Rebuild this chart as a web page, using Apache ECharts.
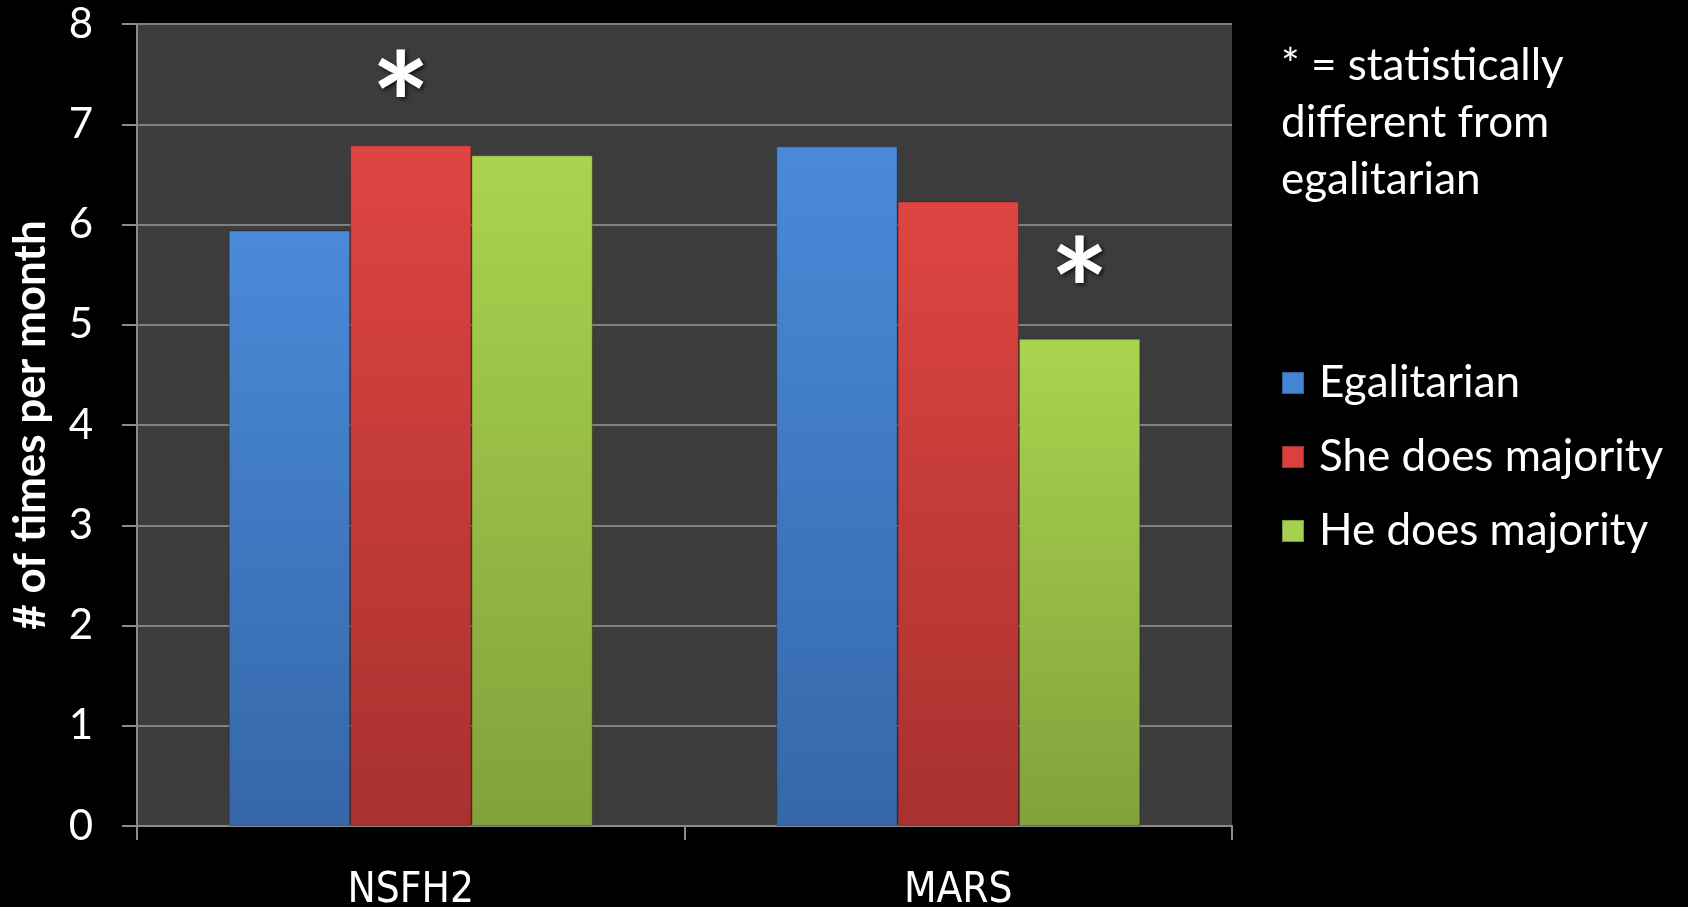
<!DOCTYPE html>
<html>
<head>
<meta charset="utf-8">
<style>
html,body{margin:0;padding:0;background:#000;}
#chart{width:1688px;height:907px;}
</style>
<script src="https://cdn.jsdelivr.net/npm/echarts@6/dist/echarts.min.js"></script>
</head>
<body>
<div id="chart"></div>
<script>
const categories = ['NSFH2', 'MARS'];
const seriesNames = ['Egalitarian', 'She does majority', 'He does majority'];
const egalitarian = [5.94, 6.78];
const sheDoesMajority = [6.79, 6.23];
const heDoesMajority = [6.69, 4.86];
// significance flags (true = statistically different from egalitarian)
const sheSignificant = [true, false];
const heSignificant = [false, true];
const yTicks = [0, 1, 2, 3, 4, 5, 6, 7, 8];
const noteLines = ['* = statistically', 'different from', 'egalitarian'];

const FONT = 'Lato, "Open Sans", sans-serif';

function grad(top, bottom) {
  return new echarts.graphic.LinearGradient(0, 0, 0, 1, [
    { offset: 0, color: top },
    { offset: 1, color: bottom }
  ]);
}
const colors = [
  { top: '#4a8ad9', bottom: '#3567a9', legend: '#4584d3' },
  { top: '#de4542', bottom: '#a8312f', legend: '#d9403e' },
  { top: '#a9d44f', bottom: '#82a13b', legend: '#a5cf4f' }
];

function makeData(values, flags, offsets) {
  return values.map((v, i) => {
    if (flags && flags[i]) {
      return {
        value: v,
        label: {
          show: true,
          formatter: '*',
          position: 'top',
          distance: 0,
          offset: offsets[i],
          color: '#ffffff',
          fontSize: 140,
          fontWeight: 'bold',
          fontFamily: FONT,
          textShadowColor: 'rgba(0,0,0,0.7)',
          textShadowBlur: 4,
          textShadowOffsetX: 2,
          textShadowOffsetY: 2
        }
      };
    }
    return v;
  });
}

const allValues = [egalitarian, sheDoesMajority, heDoesMajority];
const allFlags = [null, sheSignificant, heSignificant];
const starOffsets = [null, [[-10, 36], [0, 0]], [[0, 0], [0, 28]]];

const series = seriesNames.map((name, k) => ({
  name: name,
  type: 'bar',
  barGap: '0%',
  barCategoryGap: '33.5%',
  data: makeData(allValues[k], allFlags[k], starOffsets[k]),
  itemStyle: {
    color: grad(colors[k].top, colors[k].bottom),
    borderColor: 'rgba(0,0,0,0.25)',
    borderWidth: 1
  }
}));

const chart = echarts.init(document.getElementById('chart'), null, { renderer: 'canvas' });
chart.setOption({
  backgroundColor: '#000000',
  animation: false,
  color: colors.map(c => c.legend),
  title: {
    left: 1276,
    top: 32,
    text: noteLines.join('\n'),
    textStyle: {
      color: '#ffffff',
      fontSize: 44,
      fontWeight: 'normal',
      fontFamily: FONT,
      lineHeight: 57
    }
  },
  legend: {
    orient: 'vertical',
    left: 1276,
    top: 356,
    itemWidth: 22,
    itemHeight: 22,
    itemGap: 30,
    icon: 'rect',
    data: seriesNames.map((n, k) => ({ name: n, itemStyle: { color: colors[k].legend } })),
    textStyle: {
      color: '#ffffff',
      fontSize: 44,
      fontFamily: FONT,
      padding: [0, 0, 0, 10]
    }
  },
  grid: {
    left: 137,
    right: 456,
    top: 24,
    bottom: 81,
    outerBoundsMode: 'none',
    containLabel: false,
    show: true,
    backgroundColor: '#3c3c3c',
    borderWidth: 0
  },
  xAxis: {
    type: 'category',
    data: categories,
    axisLine: { show: true, lineStyle: { color: '#8a8a8a', width: 2 } },
    axisTick: { show: true, length: 14, lineStyle: { color: '#8a8a8a', width: 2 } },
    axisLabel: {
      color: '#ffffff',
      fontSize: 42,
      fontFamily: '"Liberation Sans Narrow", "DejaVu Sans Condensed", sans-serif',
      margin: 44
    }
  },
  yAxis: {
    type: 'value',
    min: 0,
    max: 8,
    interval: 1,
    name: '# of times per month',
    nameLocation: 'middle',
    nameGap: 84,
    nameRotate: 90,
    nameTextStyle: {
      color: '#ffffff',
      fontSize: 44,
      fontWeight: 'bold',
      fontFamily: FONT
    },
    axisLine: { show: true, lineStyle: { color: '#8a8a8a', width: 2 } },
    axisTick: { show: true, inside: false, length: 15, lineStyle: { color: '#8a8a8a', width: 2 } },
    axisLabel: {
      color: '#ffffff',
      fontSize: 42,
      fontFamily: FONT,
      margin: 44,
      formatter: v => (yTicks.indexOf(v) >= 0 ? String(v) : '')
    },
    splitLine: { show: true, lineStyle: { color: '#808080', width: 2 } }
  },
  series: series
});
</script>
</body>
</html>
